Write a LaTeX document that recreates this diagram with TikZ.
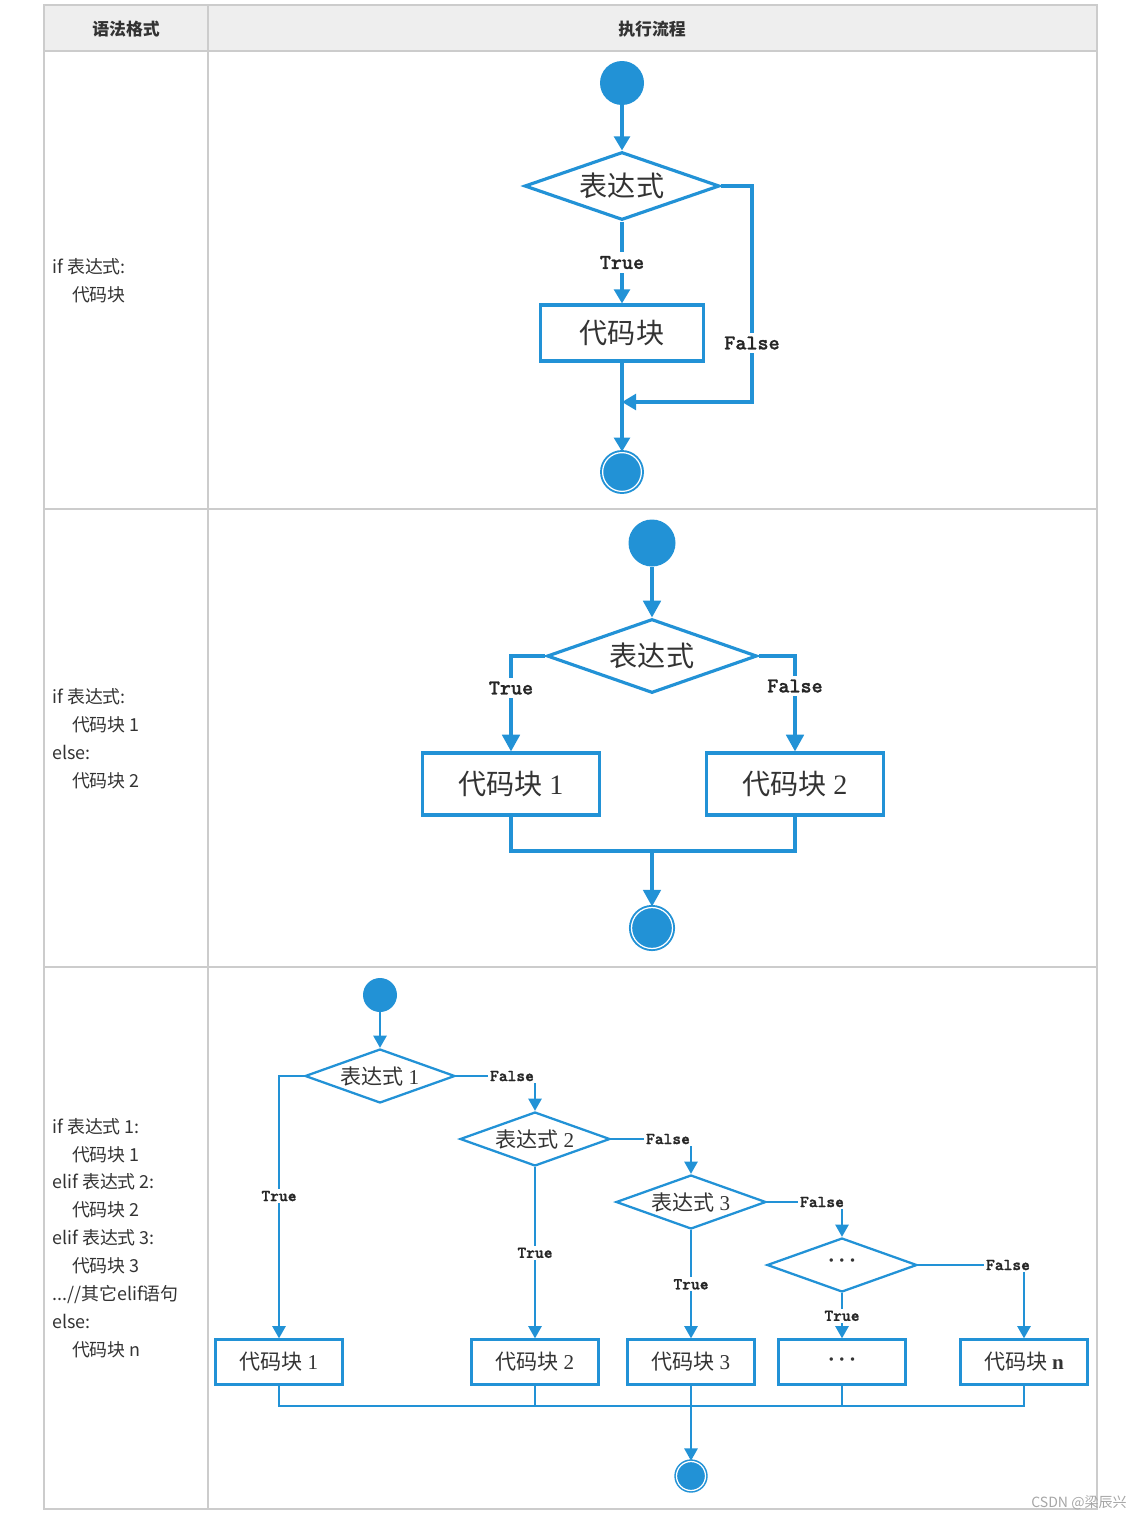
\documentclass[tikz,border=0pt]{standalone}
\usepackage{fontspec}
\setmainfont{Liberation Serif}
\newfontfamily\cjk{Noto Sans CJK SC}
\newfontfamily\lblfont{lmmonolt10-bold.otf}[FakeBold=1.2]
\usepackage{tikz}
\usetikzlibrary{arrows.meta,shapes.geometric}
\definecolor{flowblue}{RGB}{34,146,214}
\definecolor{txtgray}{RGB}{51,51,51}
\definecolor{gridgray}{RGB}{204,204,204}
\definecolor{headgray}{RGB}{238,238,238}

\begin{document}
\begin{tikzpicture}[x=0.02cm, y=-0.02cm,
    grid/.style={draw=gridgray, line width=0.6pt},
    ln/.style={draw=flowblue, line width=1.8pt},
    startc/.style={circle, fill=flowblue, inner sep=0pt, minimum size=#1},
    endc/.style={circle, fill=flowblue, draw=flowblue, double=white, double distance=0.7pt, line width=1.1pt, inner sep=0pt, minimum size=#1},
    cond/.style 2 args={diamond, draw=flowblue, line width=1.8pt, shape aspect=2.8, inner sep=0pt, text=txtgray, minimum width=#1, minimum height=#2},
    block/.style 2 args={rectangle, draw=flowblue, line width=1.8pt, inner sep=0pt, text=txtgray, minimum width=#1, minimum height=#2},
    big/.style={font=\cjk\fontsize{16}{16}\selectfont},
    small/.style={font=\cjk\fontsize{12}{12}\selectfont},
    bigl/.style={fill=white, inner sep=2pt, text=black!85, font=\lblfont\fontsize{12}{12}\selectfont},
    smalll/.style={fill=white, inner sep=1pt, text=black!85, font=\lblfont\fontsize{9.5}{9.5}\selectfont},
    code/.style={anchor=west, align=left, inner sep=0pt, text=txtgray, font=\cjk\fontsize{10.2}{15.9}\selectfont},
    head/.style={text=txtgray, font=\cjk\bfseries\fontsize{9.6}{9.6}\selectfont}]
  \useasboundingbox (0,0) rectangle (1144,1521);

  % table
  \fill[headgray] (44,5) rectangle (1097,51);
  \draw[grid] (44,5) rectangle (1097,1509);
  \draw[grid] (44,51) -- (1097,51);
  \draw[grid] (44,509) -- (1097,509);
  \draw[grid] (44,967) -- (1097,967);
  \draw[grid] (208,5) -- (208,1509);
  \node[head] (h1) at (126,29) {语法格式};
  \node[head] (h2) at (652,29) {执行流程};

  \node[code] (c1) at (52,281) {if\ 表达式:\\\hspace*{1.1em}代码块};
  \node[code] (c2) at (52,739) {if\ 表达式:\\\hspace*{1.1em}代码块 1\\else:\\\hspace*{1.1em}代码块 2};
  \node[code] (c3) at (52,1238) {if\ 表达式 1:\\\hspace*{1.1em}代码块 1\\elif 表达式 2:\\\hspace*{1.1em}代码块 2\\elif 表达式 3:\\\hspace*{1.1em}代码块 3\\...//其它elif语句\\else:\\\hspace*{1.1em}代码块 n};

  % if
  \begin{scope}[>={Triangle[length=8pt,width=9pt]}]
    \node[startc=0.88cm] (s1) at (622,83) {};
    \node[cond={3.9cm}{1.36cm}, big] (d1) at (622,186) {表达式};
    \node[block={3.26cm}{1.12cm}, big] (b1) at (622,333) {代码块};
    \node[endc=0.776cm] (e1) at (622,472) {};
    \node[bigl] (f1) at (752,343) {False};
    \coordinate (j1) at (622,402);

    \draw[ln,->] (s1) -- (d1);
    \draw[ln,->] (d1) -- node[bigl] {True} (b1);
    \draw[ln,->] (b1) -- (e1);
    \draw[ln,->] (d1.east) -| (f1) |- (j1);
  \end{scope}

  % if ... else
  \begin{scope}[>={Triangle[length=9.5pt,width=10pt]}]
    \node[startc=0.94cm] (s2) at (652,543) {};
    \node[cond={4.2cm}{1.48cm}, big] (d2) at (652,656) {表达式};
    \node[bigl] (t2) at (511,688) {True};
    \node[bigl] (f2) at (795,686) {False};
    \node[block={3.54cm}{1.24cm}, big] (b21) at (511,784) {代码块 {\rmfamily 1}};
    \node[block={3.54cm}{1.24cm}, big] (b22) at (795,784) {代码块 {\rmfamily 2}};
    \coordinate (m2) at (652,851);
    \node[endc=0.82cm] (e2) at (652,928) {};

    \draw[ln,->] (s2) -- (d2);
    \draw[ln,->] (d2.west) -| (t2) -- (b21);
    \draw[ln,->] (d2.east) -| (f2) -- (b22);
    \draw[ln] (b21) |- (m2) -| (b22);
    \draw[ln,->] (m2) -- (e2);
  \end{scope}

  % if ... elif ... else
  \begin{scope}[>={Triangle[length=7pt,width=7.5pt]},
      ln/.append style={line width=1.3pt},
      cond/.append style={line width=1.3pt},
      block/.append style={line width=1.3pt}]
    \node[startc=0.68cm] (s3) at (380,995) {};
    \node[cond={3cm}{1.08cm}, small] (d31) at (380,1076) {表达式 {\rmfamily 1}};
    \node[cond={3cm}{1.08cm}, small] (d32) at (535,1139) {表达式 {\rmfamily 2}};
    \node[cond={3cm}{1.08cm}, small] (d33) at (691,1202) {表达式 {\rmfamily 3}};
    \node[cond={3cm}{1.08cm}, small] (d34) at (842,1265) {\raisebox{2pt}{\rmfamily\bfseries ·\,·\,·}};
    \node[smalll] (f31) at (512,1076) {False};
    \node[smalll] (f32) at (668,1139) {False};
    \node[smalll] (f33) at (822,1202) {False};
    \node[smalll] (f34) at (1008,1265) {False};
    \node[smalll] (t31) at (279,1196) {True};
    \node[block={2.54cm}{0.9cm}, small] (b31) at (279,1362) {代码块 {\rmfamily 1}};
    \node[block={2.54cm}{0.9cm}, small] (b32) at (535,1362) {代码块 {\rmfamily 2}};
    \node[block={2.54cm}{0.9cm}, small] (b33) at (691,1362) {代码块 {\rmfamily 3}};
    \node[block={2.54cm}{0.9cm}, small] (b34) at (842,1362) {\rmfamily\bfseries ·\,·\,·};
    \node[block={2.54cm}{0.9cm}, small] (b35) at (1024,1362) {代码块 {\rmfamily\bfseries n}};
    \coordinate (m3) at (691,1406);
    \node[endc=0.58cm, line width=0.9pt] (e3) at (691,1476) {};

    \draw[ln,->] (s3) -- (d31);
    \draw[ln,->] (d31.west) -| (t31) -- (b31);
    \draw[ln] (d31.east) -- (f31);
    \draw[ln,->] (f31.south -| d32.north) -- (d32.north);
    \draw[ln] (d32.east) -- (f32);
    \draw[ln,->] (f32.south -| d33.north) -- (d33.north);
    \draw[ln] (d33.east) -- (f33);
    \draw[ln,->] (f33.south -| d34.north) -- (d34.north);
    \draw[ln] (d34.east) -- (f34);
    \draw[ln,->] (f34.south -| b35.north) -- (b35.north);
    \draw[ln,->] (d32) -- node[smalll] {True} (b32);
    \draw[ln,->] (d33) -- node[smalll] {True} (b33);
    \draw[ln,->] (d34) -- node[smalll] {True} (b34);
    \draw[ln] (b31) |- (m3) -| (b35);
    \draw[ln] (b32) -- (b32 |- m3);
    \draw[ln] (b33) -- (b33 |- m3);
    \draw[ln] (b34) -- (b34 |- m3);
    \draw[ln,->] (m3) -- (e3);
  \end{scope}

  \node[font=\cjk\fontsize{8}{8}\selectfont, text=black!35] (wm) at (1079,1503) {CSDN @梁辰兴};
\end{tikzpicture}
\end{document}
